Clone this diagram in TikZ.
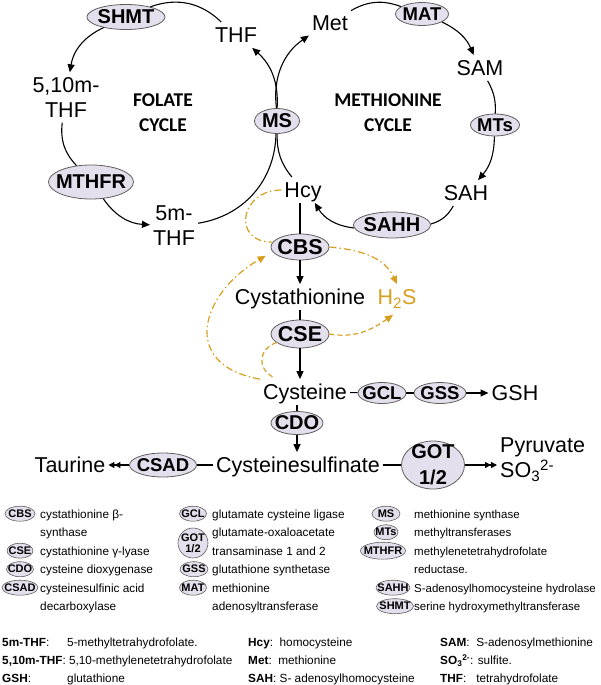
\documentclass[tikz,border=0pt]{standalone}
\usepackage{fontspec}
\setmainfont{Liberation Sans}
\newfontfamily\carlito{Carlito}
\usetikzlibrary{shapes.geometric,arrows.meta,calc}
\definecolor{enzfill}{RGB}{228,223,236}
\definecolor{enzdraw}{RGB}{95,95,95}
\definecolor{gold}{RGB}{214,160,30}
\begin{document}
\begin{tikzpicture}[x=1pt,y=1pt,
  lbl/.style={font=\fontsize{21.5}{25}\selectfont, inner xsep=3pt, inner ysep=5pt, text height=15.4pt, text depth=0pt},
  lbltwo/.style={font=\fontsize{21.5}{25}\selectfont, inner xsep=3pt, inner ysep=5pt, align=center},
  cyc/.style={font=\carlito\bfseries\fontsize{19.5}{25}\selectfont, align=center},
  enz/.style={ellipse, draw=enzdraw, fill=enzfill, line width=0.8pt, inner sep=0pt, inner xsep=-12pt, inner ysep=-8pt, font=\fontsize{20}{26}\selectfont\bfseries},
  enzs/.style={font=\fontsize{18.5}{24}\selectfont\bfseries},
  enzl/.style={font=\fontsize{21.5}{26}\selectfont\bfseries},
  sz/.style 2 args={minimum width=#1pt, minimum height=#2pt},
  con/.style={line width=1.1pt, black},
  arr/.style={con, -{Triangle[length=8pt,width=7pt]}},
  dbl/.style={con, -{Triangle[length=6pt,width=6pt] Triangle[length=6pt,width=6pt]}},
  gdd/.style={gold, line width=1.2pt, dash pattern=on 7pt off 3pt on 1.5pt off 3pt},
  gda/.style={gold, line width=1.2pt, dash pattern=on 5pt off 3pt},
  garr/.style={-{Triangle[length=8pt,width=7pt]}},
  lenz/.style={ellipse, draw=enzdraw, fill=enzfill, line width=0.6pt, inner sep=0pt, inner xsep=-6pt, inner ysep=-4pt, font=\fontsize{11}{11}\selectfont\bfseries},
  ltxt/.style={anchor=base west, font=\fontsize{11.8}{14}\selectfont, inner sep=0pt},
  ltxtc/.style={anchor=base west, font=\fontsize{11.5}{14}\selectfont, inner sep=0pt},
]
\useasboundingbox (0,0) rectangle (600,-685);

% ---- folate cycle
\node[enz, sz={78}{25}] (SHMT) at (126,-17) {SHMT};
\node[lbl] (THF) at (236,-35) {THF};
\node[lbltwo] (t510) at (66,-97.5) {5,10m-\\THF};
\node[enz, sz={85}{34}] (MTHFR) at (91,-182) {MTHFR};
\node[lbltwo] (t5m) at (174,-225.5) {5m-\\THF};
\node[enz, sz={45}{25}] (MS) at (277,-121) {MS};
\node[cyc] (fol) at (163,-112.5) {FOLATE\\CYCLE};

\draw[arr] (SHMT) to[bend right=28] (t510);
\draw[con] (t510) to[bend right=25] (MTHFR);
\draw[arr] (MTHFR) to[bend right=26] (t5m);
\draw[con] (t5m) to[bend right=40] (MS);
\draw[arr] (MS) to[bend right=26] (THF);
\draw[con] (THF) to[bend right=32] (SHMT);

% ---- methionine cycle
\node[cyc] (metc) at (388,-112.5) {METHIONINE\\CYCLE};
\node[lbl] (Met) at (330,-23) {Met};
\node[enz, enzs, sz={53}{23}] (MAT) at (422,-14) {MAT};
\node[lbl] (SAM) at (480,-68) {SAM};
\node[enz, enzs, sz={49}{22}] (MTs) at (495,-125) {MTs};
\node[lbl] (SAH) at (466,-193) {SAH};
\node[enz, sz={77}{26}] (SAHH) at (392,-225) {SAHH};
\node[lbl] (Hcy) at (303,-190) {Hcy};

\draw[arr] (MS) to[bend left=31] (Met);
\draw[con] (Met) to[bend left=25] (MAT);
\draw[arr] (MAT) to[bend left=21] (SAM);
\draw[con] (SAM) to[bend left=16] (MTs);
\draw[arr] (MTs) to[bend left=20] (SAH);
\draw[con] (SAH) to[bend left=22] (SAHH);
\draw[arr] (SAHH) to[bend left=26] (Hcy);
\draw[con] (Hcy) to[bend left=20] (MS);

% ---- transsulfuration
\node[enz, enzl, sz={58}{26}] (CBS) at (300,-247) {CBS};
\node[lbl] (Cysta) at (300,-297) {Cystathionine};
\node[lbl, text=gold] (H2S) at (397,-297) {H\textsubscript{2}S};
\node[enz, enzl, sz={58}{28}] (CSE) at (300,-334) {CSE};
\node[lbl] (Cys) at (305,-392) {Cysteine};
\node[enz, enzs, sz={48}{21}] (GCL) at (382,-393) {GCL};
\node[enz, enzs, sz={52}{21}] (GSS) at (440,-393) {GSS};
\node[lbl] (GSH) at (515,-393) {GSH};
\node[enz, sz={52}{23}] (CDO) at (297,-423) {CDO};
\node[lbl] (Csf) at (298,-465) {Cysteinesulfinate};
\node[enz, enzs, sz={67}{24}] (CSAD) at (163,-465) {CSAD};
\node[lbl] (Tau) at (70,-465) {Taurine};
\node[enz, sz={63}{48}, align=center] (GOT) at (433,-465) {GOT\\1/2};
\node[lbltwo, anchor=west, align=left] (Pyr) at (497,-459.5) {Pyruvate\\SO\textsubscript{3}\textsuperscript{2-}};

\draw[con] (Hcy.south -| CBS.north) -- (CBS);
\draw[arr] (CBS) -- (Cysta);
\draw[con] (Cysta) -- (CSE);
\draw[arr] (CSE) -- (CSE.south |- Cys.north);
\draw[con] (Cys) -- (GCL);
\draw[con] (GCL) -- (GSS);
\draw[arr] (GSS) -- (GSH);
\draw[con] (CDO.north |- Cys.south) -- (CDO);
\draw[arr] (CDO) -- (CDO.south |- Csf.north);
\draw[con] (Csf) -- (CSAD);
\draw[dbl] (CSAD) -- (Tau);
\draw[con] (Csf) -- (GOT);
\draw[dbl] (GOT) -- (Pyr.west |- GOT.east);

% ---- H2S related (gold)
\draw[gdd] (Hcy.west) to[out=180, in=180, looseness=2] (CBS.170);
\draw[gdd, garr] (CBS.east) to[out=-5, in=115] (H2S.north);
\draw[gdd, garr, shorten >=8pt] (Cys.north west) to[out=170, in=210, looseness=1.65] (CBS.190);
\draw[gda, garr] (CSE.east) to[out=-10, in=215] ($(H2S.south)+(-4,-5)$);
\draw[gda] (CSE.200) to[out=200, in=150, looseness=1.4] ($(Cys.north west)+(13,2)$);

% ---- enzyme legend
\node[lenz, sz={30}{15}] (lCBS) at (20,-513.7) {CBS};
\node[ltxt] (dCBSa) at (40,-518) {cystathionine β-};
\node[ltxt] (dCBSb) at (40,-536.5) {synthase};
\node[lenz, sz={26}{15}] (lCSE) at (20,-550.7) {CSE};
\node[ltxt] (dCSE) at (40,-555) {cystathionine γ-lyase};
\node[lenz, sz={27}{15}] (lCDO) at (20,-569.2) {CDO};
\node[ltxt] (dCDO) at (40,-573.5) {cysteine dioxygenase};
\node[lenz, sz={36}{15}] (lCSAD) at (20,-587.7) {CSAD};
\node[ltxt] (dCSADa) at (40,-592) {cysteinesulfinic acid};
\node[ltxt] (dCSADb) at (40,-610.5) {decarboxylase};

\node[lenz, sz={27}{15}] (lGCL) at (193,-513.7) {GCL};
\node[ltxt] (dGCL) at (212,-518) {glutamate cysteine ligase};
\node[lenz, sz={30}{30}, align=center] (lGOT) at (193,-543) {GOT\\1/2};
\node[ltxt] (dGOTa) at (212,-536.5) {glutamate-oxaloacetate};
\node[ltxt] (dGOTb) at (212,-555) {transaminase 1 and 2};
\node[lenz, sz={28}{15}] (lGSS) at (194,-569.2) {GSS};
\node[ltxt] (dGSS) at (212,-573.5) {glutathione synthetase};
\node[lenz, sz={27}{15}] (lMAT) at (193,-587.7) {MAT};
\node[ltxt] (dMATa) at (212,-592) {methionine};
\node[ltxt] (dMATb) at (212,-610.5) {adenosyltransferase};

\node[lenz, sz={28}{15}] (lMS) at (386,-513.7) {MS};
\node[ltxtc] (dMS) at (414,-518) {methionine synthase};
\node[lenz, sz={24}{15}] (lMTs) at (386,-532.2) {MTs};
\node[ltxtc] (dMTs) at (414,-536.5) {methyltransferases};
\node[lenz, sz={45}{17}] (lMTHFR) at (383,-550.7) {MTHFR};
\node[ltxtc] (dMTHFRa) at (414,-555) {methylenetetrahydrofolate};
\node[ltxtc] (dMTHFRb) at (414,-573.5) {reductase.};
\node[lenz, sz={34}{15}] (lSAHH) at (393,-587.7) {SAHH};
\node[ltxtc] (dSAHH) at (414,-592) {S-adenosylhomocysteine hydrolase};
\node[lenz, sz={37}{15}] (lSHMT) at (395,-606.2) {SHMT};
\node[ltxtc] (dSHMT) at (414,-610.5) {serine hydroxymethyltransferase};

% ---- abbreviations
\node[ltxt] (a1) at (2,-646.5) {\textbf{5m-THF}:};
\node[ltxt] (a1d) at (67,-646.5) {5-methyltetrahydrofolate.};
\node[ltxt] (a2) at (2,-664.5) {\textbf{5,10m-THF}: 5,10-methylenetetrahydrofolate};
\node[ltxt] (a3) at (2,-682.5) {\textbf{GSH}:};
\node[ltxt] (a3d) at (67,-682.5) {glutathione};
\node[ltxt] (b1) at (248,-646.5) {\textbf{Hcy}:\ \ homocysteine};
\node[ltxt] (b2) at (248,-664.5) {\textbf{Met}:\ \ methionine};
\node[ltxt] (b3) at (248,-682.5) {\textbf{SAH}: S-\ adenosylhomocysteine};
\node[ltxt] (c1) at (440,-646.5) {\textbf{SAM}:\ \ S-adenosylmethionine};
\node[ltxt] (c2) at (440,-664.5) {\textbf{SO\textsubscript{3}\textsuperscript{2-}}: sulfite.};
\node[ltxt] (c3) at (440,-682.5) {\textbf{THF}:\ \ \ tetrahydrofolate};
\end{tikzpicture}
\end{document}
